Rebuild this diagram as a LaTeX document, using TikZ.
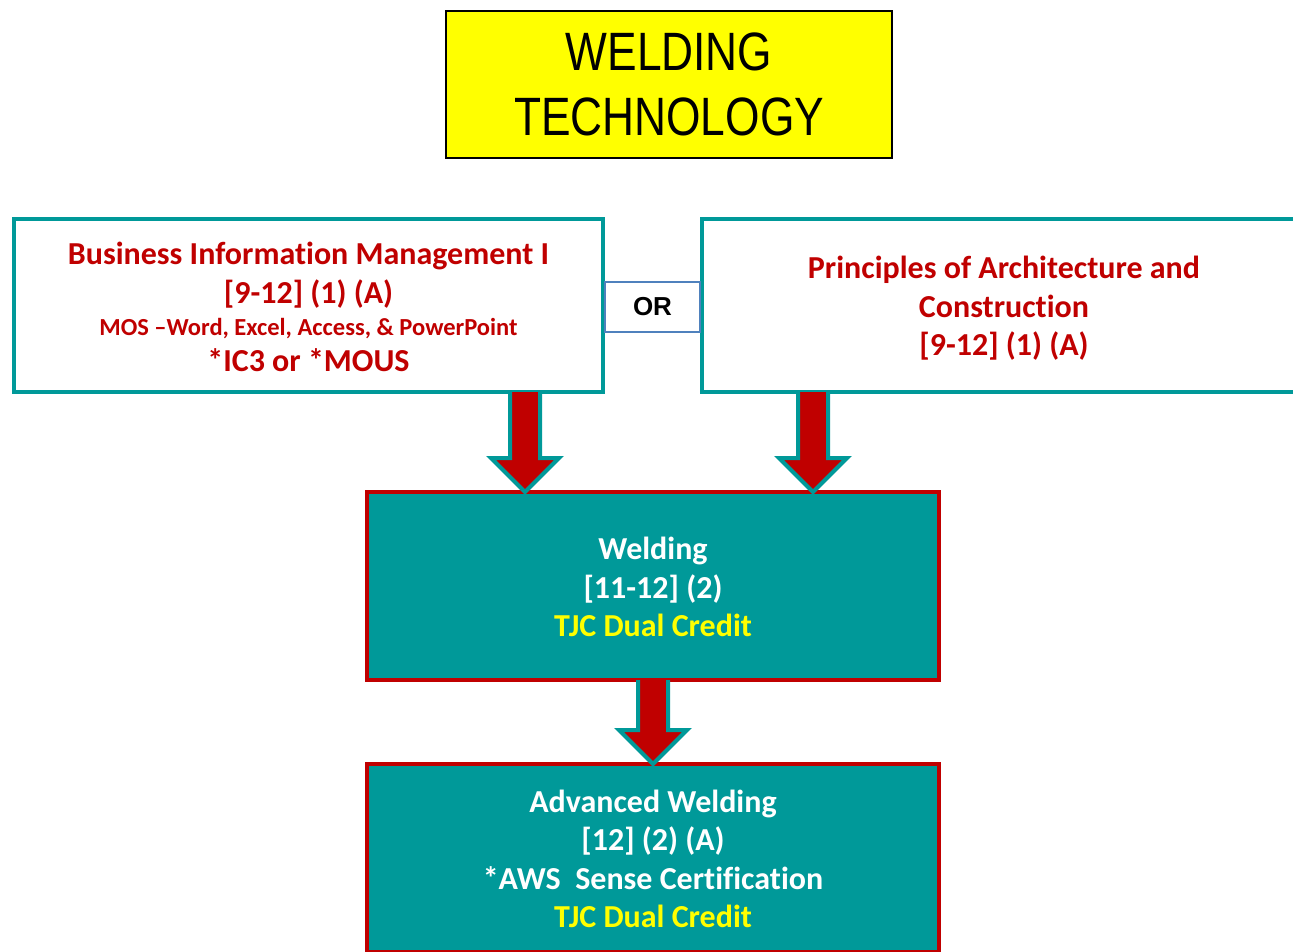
\documentclass[tikz,border=0pt]{standalone}
\usepackage{fontspec}
\setmainfont{Carlito}[Ligatures=NoCommon]
\newfontfamily\titlefont[FakeStretch=0.82]{Liberation Sans}
\newfontfamily\arialfont{Liberation Sans}
\usetikzlibrary{calc}
\definecolor{tealc}{RGB}{0,153,153}
\definecolor{redc}{RGB}{192,0,0}
\definecolor{bluec}{RGB}{79,129,189}
\definecolor{yellowc}{RGB}{255,255,0}
\newcommand\wtarrow[2]{%
  \fill[redc] ($(#1)+(-15,0)$) -- ($(#2)+(-15,-34)$) -- ($(#2)+(-34,-34)$) -- (#2)
     -- ($(#2)+(34,-34)$) -- ($(#2)+(15,-34)$) -- ($(#1)+(15,0)$) -- cycle;
  \draw[tealc,line width=4pt,line join=miter] ($(#1)+(-15,0)$) -- ($(#2)+(-15,-34)$) -- ($(#2)+(-34,-34)$) -- (#2)
     -- ($(#2)+(34,-34)$) -- ($(#2)+(15,-34)$) -- ($(#1)+(15,0)$);
}
\begin{document}
\begin{tikzpicture}[x=1pt,y=-1pt,
  every node/.style={inner sep=0pt,outer sep=0pt},
  titlebox/.style={draw=black,line width=2pt,fill=yellowc,minimum width=446pt,minimum height=147pt,
    align=center,font=\titlefont\fontsize{54}{65}\selectfont},
  coursebox/.style={draw=tealc,line width=4pt,fill=white,minimum width=589pt,minimum height=173pt},
  orstyle/.style={draw=bluec,line width=2pt,fill=white,minimum width=95pt,minimum height=50pt,
    font=\arialfont\bfseries\fontsize{26}{30}\selectfont},
  weldbox/.style={draw=redc,line width=4pt,fill=tealc,minimum width=572pt,minimum height=188pt},
  redtext/.style={text=redc,align=center,font=\bfseries\fontsize{32}{38.5}\selectfont},
  whitetext/.style={text=white,align=center,font=\bfseries\fontsize{32}{38.5}\selectfont},
]
\useasboundingbox (0,0) rectangle (1293,951);
\fill[white] (0,0) rectangle (1293,951);

\node[titlebox] (title) at (669,84.5) {WELDING\\TECHNOLOGY};

\node[coursebox] (bim) at (308.5,305.5) {};
\node[redtext] (bimtext) at ($(bim.center)+(0,1.5)$) {Business Information Management I\\{[9-12] (1) (A)}\\[-6.5pt]
  {\fontsize{24.5}{30}\selectfont MOS –Word, Excel, Access, \& PowerPoint}\\[-2.5pt]{*IC3 or *MOUS}};
\node[coursebox,minimum width=604pt] (pac) at (1004,305.5) {};
\node[redtext] (pactext) at ($(pac.center)+(0,3)$) {Principles of Architecture and\\Construction\\{[9-12] (1) (A)}};
\node[orstyle] (ornode) at (652.5,307) {OR};

\node[weldbox] (wel) at (653,586) {};
\node[whitetext] (weltext) at ($(wel.center)+(0,1)$) {Welding\\{[11-12] (2)}\\\textcolor{yellowc}{TJC Dual Credit}};
\node[weldbox] (adv) at (653,858) {};
\node[whitetext] (advtext) at ($(adv.center)+(0,1)$) {Advanced Welding\\{[12] (2) (A)}\\{*AWS\ \ Sense Certification}\\\textcolor{yellowc}{TJC Dual Credit}};

\coordinate (a1s) at (525,0 |- bim.south);
\coordinate (a1e) at (525,0 |- wel.north);
\coordinate (a2s) at (813,0 |- pac.south);
\coordinate (a2e) at (813,0 |- wel.north);
\wtarrow{a1s}{a1e}
\wtarrow{a2s}{a2e}
\wtarrow{wel.south}{adv.north}
\end{tikzpicture}
\end{document}
